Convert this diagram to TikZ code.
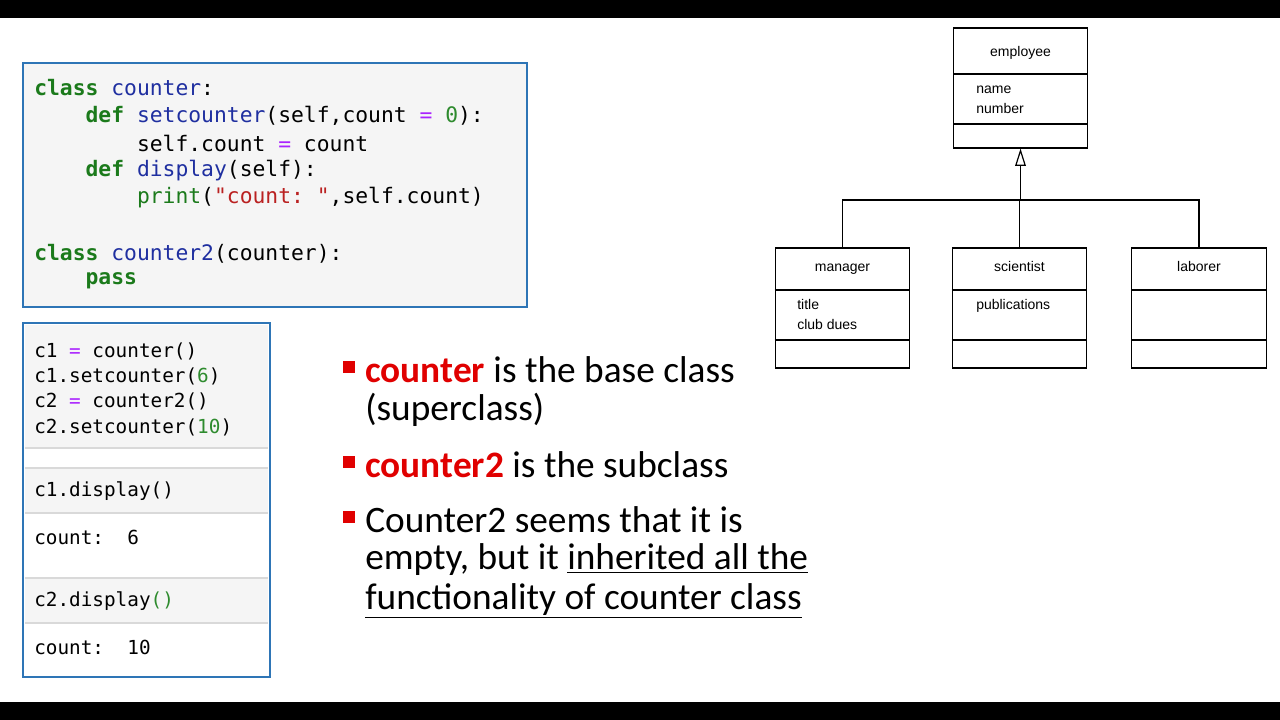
\documentclass[tikz,border=0pt]{standalone}
\usepackage{fontspec}
\setmainfont{Carlito}
\setmonofont{DejaVu Sans Mono}
\newfontfamily\umlfont{Liberation Sans}
\usepackage{tikz}
\usetikzlibrary{arrows.meta,positioning}
\definecolor{frame}{HTML}{2E75B6}
\definecolor{cellbg}{HTML}{F5F5F5}
\definecolor{kw}{HTML}{1B7A1B}
\definecolor{cls}{HTML}{1F2FA0}
\definecolor{op}{HTML}{AA22FF}
\definecolor{num}{HTML}{2E8B2E}
\definecolor{str}{HTML}{BA2121}
\definecolor{hot}{HTML}{E00000}
\newcommand{\kwd}[1]{\textcolor{kw}{\bfseries #1}}
\newcommand{\cln}[1]{\textcolor{cls}{#1}}
\newcommand{\opr}[1]{\textcolor{op}{#1}}
\newcommand{\nmb}[1]{\textcolor{num}{#1}}
\tikzset{
  codebox/.style={draw=frame, line width=2.2pt, fill=cellbg},
  code/.style={anchor=west, inner sep=0pt, font=\ttfamily\fontsize{16}{18}\selectfont},
  cell/.style={anchor=west, inner sep=0pt, font=\ttfamily\fontsize{14.5}{17}\selectfont},
  sep/.style={draw=black!15, line width=0.8pt},
  bul/.style={anchor=west, inner sep=0pt, font=\fontsize{28}{32}\selectfont},
  sq/.style={fill=hot, minimum size=9pt, inner sep=0pt},
  umlbox/.style={draw, line width=0.9pt, minimum width=101pt, minimum height=90pt, inner sep=0pt},
  uml/.style={inner sep=0pt, anchor=base, font=\umlfont\fontsize{10.5}{12}\selectfont},
  inh/.style={line width=0.9pt},
}
\begin{document}
\begin{tikzpicture}[x=0.75pt,y=-0.75pt]
  \useasboundingbox (0,0) rectangle (1280,720);
  \fill[black] (0,0) rectangle (1280,18);
  \fill[black] (0,702) rectangle (1280,720);
  % class code
  \draw[codebox] (23,63) rectangle (527,307);
  \node[code] (l1) at (34,88) {\kwd{class} \cln{counter}:};
  \node[code] (l2) at (34,116) {\phantom{xxxx}\kwd{def} \cln{setcounter}(self,count \opr{=} \nmb{0}):};
  \node[code] (l3) at (34,143) {\phantom{xxxxxxxx}self.count \opr{=} count};
  \node[code] (l4) at (34,171) {\phantom{xxxx}\kwd{def} \cln{display}(self):};
  \node[code] (l5) at (34,198) {\phantom{xxxxxxxx}\textcolor{kw}{print}(\textcolor{str}{"count: "},self.count)};
  \node[code] (l6) at (34,254) {\kwd{class} \cln{counter2}(counter):};
  \node[code] (l7) at (34,281) {\phantom{xxxx}\kwd{pass}};
  % notebook cells
  \fill[white] (23,323) rectangle (270,677);
  \fill[cellbg] (25,325) rectangle (268,448);
  \fill[cellbg] (25,468) rectangle (268,513);
  \fill[cellbg] (25,578) rectangle (268,623);
  \foreach \y in {448,468,513,578,623}
    \draw[sep] (25,\y) -- (268,\y);
  \draw[draw=frame, line width=2.2pt] (23,323) rectangle (270,677);
  \node[cell] (c1) at (34,351) {c1 \opr{=} counter()};
  \node[cell] (c2) at (34,376) {c1.setcounter(\nmb{6})};
  \node[cell] (c3) at (34,401) {c2 \opr{=} counter2()};
  \node[cell] (c4) at (34,427) {c2.setcounter(\nmb{10})};
  \node[cell] (c5) at (34,491) {c1.display()};
  \node[cell] (c6) at (34,537) {count:\ \ 6};
  \node[cell] (c7) at (34,601) {c2.display\nmb{()}};
  \node[cell] (c8) at (34,647) {count:\ \ 10};
  % bullets
  \foreach \y in {367,462,517}
    \node[sq] at (349,\y) {};
  \node[bul] (b1) at (365,370) {\textcolor{hot}{\bfseries counter} is the base class};
  \node[bul] (b1b) at (365,410) {(superclass)};
  \node[bul] (b2) at (365,465) {\textcolor{hot}{\bfseries counter2} is the subclass};
  \node[bul] (b3) at (365,520) {Counter2 seems that it is};
  \node[bul] (b3b) at (365,560) {empty, but it \underline{inherited all the}};
  \node[bul] (b3c) at (365,601) {\underline{functionality of counter class}};
  % uml
  \node[umlbox] (emp) at (1020.5,88) {};
  \draw[inh] (953,74) -- (1088,74) (953,124) -- (1088,124);
  \node[uml] at (1020.5,57) {employee};
  \node[uml,anchor=base west] at (976,94) {name};
  \node[uml,anchor=base west] at (976,114) {number};
  \node[umlbox] (mgr) at (842.5,308) {};
  \node[umlbox] (sci) at (1019.5,308) {};
  \node[umlbox] (lab) at (1199,308) {};
  \foreach \b in {mgr,sci,lab} {
    \draw[inh] (\b.west |- 0,290) -- (\b.east |- 0,290);
    \draw[inh] (\b.west |- 0,340) -- (\b.east |- 0,340);
  }
  \node[uml] at (842.5,272) {manager};
  \node[uml] at (1019.5,272) {scientist};
  \node[uml] at (1199,272) {laborer};
  \node[uml,anchor=base west] at (797,309) {title};
  \node[uml,anchor=base west] at (797,329) {club dues};
  \node[uml,anchor=base west] at (976,309) {publications};
  \coordinate (join) at (emp.south |- 0,200);
  \draw[inh] (mgr.north) |- (join) -| (lab.north);
  \draw[inh] (sci.north) |- (join);
  \draw[inh,-{Triangle[open,length=13pt,width=8pt]}] (join) -- (emp.south);
\end{tikzpicture}
\end{document}
